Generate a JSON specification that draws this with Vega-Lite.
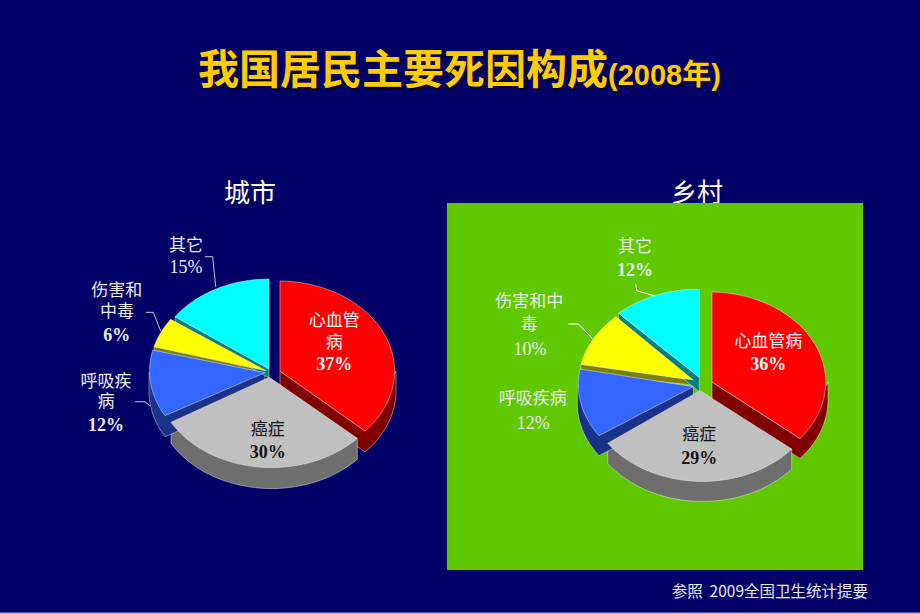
{"$schema":"https://vega.github.io/schema/vega-lite/v6.json","width":920,"height":614,"padding":0,"autosize":{"type":"none"},"background":"#000066","config":{"view":{"stroke":null}},
"datasets":{
"slices":[
{"panel":"城市","slice":"心血管病","value":0.37,"id":"城市-心血管病","n":0},
{"panel":"城市","slice":"癌症","value":0.30,"id":"城市-癌症","n":1},
{"panel":"城市","slice":"呼吸疾病","value":0.12,"id":"城市-呼吸疾病","n":2},
{"panel":"城市","slice":"伤害和中毒","value":0.06,"id":"城市-伤害和中毒","n":3},
{"panel":"城市","slice":"其它","value":0.15,"id":"城市-其它","n":4},
{"panel":"乡村","slice":"心血管病","value":0.36,"id":"乡村-心血管病","n":5},
{"panel":"乡村","slice":"癌症","value":0.29,"id":"乡村-癌症","n":6},
{"panel":"乡村","slice":"呼吸疾病","value":0.12,"id":"乡村-呼吸疾病","n":7},
{"panel":"乡村","slice":"伤害和中毒","value":0.10,"id":"乡村-伤害和中毒","n":8},
{"panel":"乡村","slice":"其它","value":0.12,"id":"乡村-其它","n":9}
],
"names":[
{"n":0,"slice":"心血管病","line":"心血管"},{"n":1,"slice":"心血管病","line":"病"},{"n":2,"slice":"癌症","line":"癌症"},{"n":3,"slice":"呼吸疾病","line":"呼吸疾"},{"n":4,"slice":"呼吸疾病","line":"病"},{"n":5,"slice":"伤害和中毒","line":"伤害和"},{"n":6,"slice":"伤害和中毒","line":"中毒"},{"n":7,"slice":"其它","line":"其它"},
{"n":8,"slice":"心血管病","line":"心血管病"},{"n":9,"slice":"癌症","line":"癌症"},{"n":10,"slice":"呼吸疾病","line":"呼吸疾病"},{"n":11,"slice":"伤害和中毒","line":"伤害和中"},{"n":12,"slice":"伤害和中毒","line":"毒"},{"n":13,"slice":"其它","line":"其它"}
]},
"resolve":{"scale":{"x":"independent","y":"independent","shape":"independent","color":"independent"}},
"layer":[
{"data":{"values":[{"panel":"城市"},{"panel":"乡村"}]},"mark":{"type":"text","fontSize":26,"font":"Noto Sans CJK SC","color":"#ffffff","baseline":"middle","align":"center"},
"encoding":{"text":{"field":"panel"},"x":{"field":"panel","type":"nominal","axis":null,"scale":{"type":"point","padding":0,"domain":["城市","乡村"],"range":[250,697]}},"y":{"field":"panel","type":"nominal","axis":null,"scale":{"type":"point","padding":0,"domain":["城市","乡村"],"range":[194,194]}}}},
{"data":{"values":[{"panel":"乡村"}]},"mark":{"type":"point","filled":true,"opacity":1,"size":4,"color":"#60c800","shape":"M-265,-179 L151,-179 L151,188 L-265,188 Z"},
"encoding":{"x":{"field":"panel","type":"nominal","axis":null,"scale":{"type":"point","padding":0,"domain":["城市","乡村"],"range":[280,712]}},"y":{"field":"panel","type":"nominal","axis":null,"scale":{"type":"point","padding":0,"domain":["城市","乡村"],"range":[371,382]}}}},
{"data":{"values":[{"panel":"乡村"}]},"mark":{"type":"point","filled":false,"fill":"transparent","opacity":1,"size":4,"strokeWidth":1.5,"color":"#b0b0f4","shape":"M-712,231.3 L208,231.3"},
"encoding":{"x":{"field":"panel","type":"nominal","axis":null,"scale":{"type":"point","padding":0,"domain":["城市","乡村"],"range":[280,712]}},"y":{"field":"panel","type":"nominal","axis":null,"scale":{"type":"point","padding":0,"domain":["城市","乡村"],"range":[371,382]}}}},
{"data":{"name":"slices"},"mark":{"type":"point","filled":true,"opacity":1,"size":4,"stroke":"#ffffff","strokeWidth":0.6,"strokeOpacity":0.7},
"encoding":{"x":{"field":"panel","type":"nominal","axis":null,"scale":{"type":"point","padding":0,"domain":["城市","乡村"],"range":[280,712]}},"y":{"field":"panel","type":"nominal","axis":null,"scale":{"type":"point","padding":0,"domain":["城市","乡村"],"range":[371,382]}},
"color":{"field":"slice","type":"nominal","legend":null,"scale":{"domain":["心血管病","癌症","呼吸疾病","伤害和中毒","其它"],"range":["#800000","#6e6e6e","#1a3388","#808000","#008080"]}},
"shape":{"field":"id","type":"nominal","legend":null,"scale":{"domain":["城市-心血管病","城市-癌症","城市-呼吸疾病","城市-伤害和中毒","城市-其它","乡村-心血管病","乡村-癌症","乡村-呼吸疾病","乡村-伤害和中毒","乡村-其它"],"range":[
"M0,0 L85,60 L116,0 L116,21 A116 90 0 0 1 85,81 L0,21 Z",
"M77.3,67.3 L77.3,88.3 A116 90 0 0 1 -109,72.3 L-109,51.3 Z",
"M-15,1.7 L-15,22.7 L-115,65.7 A116 90 0 0 1 -131,22.7 L-131,1.7 Z",
"M-14,-0.3 L-14,3 L-126,-20 L-126,-24.3 Z",
"M-11,-2 L-11,7 L-105,-47 L-105,-54.3 Z",
"M0,0 L88,56.5 L116,0 L116,20 A116 90 0 0 1 88,76.5 L0,20 Z",
"M79.7,67 L79.7,87 A116 90 0 0 1 -104.3,81.3 L-104.3,61.3 Z",
"M-18.7,4.7 L-18.7,24.7 L-113,73.7 A116 90 0 0 1 -134.7,24.7 L-134.7,4.7 Z",
"M-18.7,-2 L-18.7,3 L-131,-8 L-131,-17.7 Z",
"M-12.7,-4.7 L-12.7,10 L-93.3,-58 L-93.3,-68.7 Z"]}}}},
{"data":{"name":"slices"},"mark":{"type":"point","filled":true,"opacity":1,"size":4,"stroke":"#ffffff","strokeWidth":0.6,"strokeOpacity":0.7},
"encoding":{"x":{"field":"panel","type":"nominal","axis":null,"scale":{"type":"point","padding":0,"domain":["城市","乡村"],"range":[280,712]}},"y":{"field":"panel","type":"nominal","axis":null,"scale":{"type":"point","padding":0,"domain":["城市","乡村"],"range":[371,382]}},
"color":{"field":"slice","type":"nominal","legend":null,"scale":{"domain":["心血管病","癌症","呼吸疾病","伤害和中毒","其它"],"range":["#ff0000","#c0c0c0","#3366ff","#ffff00","#00ffff"]}},
"shape":{"field":"id","type":"nominal","legend":null,"scale":{"domain":["城市-心血管病","城市-癌症","城市-呼吸疾病","城市-伤害和中毒","城市-其它","乡村-心血管病","乡村-癌症","乡村-呼吸疾病","乡村-伤害和中毒","乡村-其它"],"range":[
"M0,0 L0,-90 A116 90 0 0 1 85,60 Z",
"M-10.7,6.3 L77.3,67.3 A116 90 0 0 1 -109,51.3 Z",
"M-15,1.7 L-115,44.7 A116 90 0 0 1 -127.3,-21 Z",
"M-14,-0.3 L-126,-24.3 A116 90 0 0 1 -109.3,-51.7 Z",
"M-11,-2 L-105,-54.3 A116 90 0 0 1 -11,-92 Z",
"M0,0 L0,-90 A116 90 0 0 1 88,56.5 Z",
"M-12,8.7 L79.7,67 A116 90 0 0 1 -104.3,61.3 Z",
"M-18.7,4.7 L-113,53.7 A116 90 0 0 1 -132,-13 Z",
"M-18.7,-2 L-131,-17.7 A116 90 0 0 1 -96,-65.3 Z",
"M-12.7,-4.7 L-93.3,-68.7 A116 90 0 0 1 -12.7,-92.7 Z"]}}}},
{"data":{"name":"slices"},"transform":[{"filter":{"field":"id","oneOf":["城市-呼吸疾病","城市-伤害和中毒","城市-其它","乡村-伤害和中毒","乡村-其它"]}}],"mark":{"type":"point","filled":false,"fill":"transparent","opacity":1,"size":4,"strokeWidth":1},
"encoding":{"x":{"field":"panel","type":"nominal","axis":null,"scale":{"type":"point","padding":0,"domain":["城市","乡村"],"range":[280,712]}},"y":{"field":"panel","type":"nominal","axis":null,"scale":{"type":"point","padding":0,"domain":["城市","乡村"],"range":[371,382]}},
"color":{"field":"panel","type":"nominal","legend":null,"scale":{"domain":["城市","乡村"],"range":["#c4cce0","#ffffff"]}},
"shape":{"field":"id","type":"nominal","legend":null,"scale":{"domain":["城市-呼吸疾病","城市-伤害和中毒","城市-其它","乡村-伤害和中毒","乡村-其它"],"range":[
"M-145,30.7 L-135,30.7 L-130,35",
"M-134,-58.7 L-126.7,-58.7 L-119.3,-40",
"M-75,-114.3 L-67.3,-114.3 L-64.3,-84.3",
"M-143.7,-58 L-133.7,-58 L-119.7,-43.7",
"M-76.3,-98 L-75.3,-91.3 L-57,-86"]}}}},
{"data":{"name":"names"},"mark":{"type":"text","font":"Noto Sans CJK SC","fontSize":17,"baseline":"middle","align":"center"},
"encoding":{"text":{"field":"line"},
"x":{"field":"n","type":"quantitative","axis":null,"scale":{"zero":false,"nice":false,"domain":[0,1,2,3,4,5,6,7,8,9,10,11,12,13],"range":[334.3,334.3,267.7,106,106,116.7,117,186,768.3,699.3,532.7,529.3,529.3,635]}},
"y":{"field":"n","type":"quantitative","axis":null,"scale":{"zero":false,"nice":false,"domain":[0,1,2,3,4,5,6,7,8,9,10,11,12,13],"range":[321,342.7,430,381.7,401.7,291,312.3,246,341.7,435,399.3,301.7,325,246.7]}},
"color":{"field":"slice","type":"nominal","legend":null,"scale":{"domain":["心血管病","癌症","呼吸疾病","伤害和中毒","其它"],"range":["#ffffff","#111111","#e8ecf0","#e8ecf0","#e8ecf0"]}}}},
{"data":{"name":"slices"},"transform":[{"filter":{"field":"n","oneOf":[0,1,2,3,5,6,9]}}],"mark":{"type":"text","font":"Liberation Serif","fontSize":18,"fontWeight":"bold","baseline":"middle","align":"center"},
"encoding":{"text":{"field":"value","type":"quantitative","format":".0%"},
"x":{"field":"n","type":"quantitative","axis":null,"scale":{"zero":false,"nice":false,"domain":[0,1,2,3,4,5,6,7,8,9],"range":[334.3,267.7,106,116.7,186,768.3,699.3,533.3,530,635]}},
"y":{"field":"n","type":"quantitative","axis":null,"scale":{"zero":false,"nice":false,"domain":[0,1,2,3,4,5,6,7,8,9],"range":[365,452.7,425.7,335.7,268.3,365,459.3,424,350,271]}},
"color":{"field":"slice","type":"nominal","legend":null,"scale":{"domain":["心血管病","癌症","呼吸疾病","伤害和中毒","其它"],"range":["#ffffff","#111111","#e8ecf0","#e8ecf0","#e8ecf0"]}}}},
{"data":{"name":"slices"},"transform":[{"filter":{"field":"n","oneOf":[4,7,8]}}],"mark":{"type":"text","font":"Liberation Serif","fontSize":18,"baseline":"middle","align":"center"},
"encoding":{"text":{"field":"value","type":"quantitative","format":".0%"},
"x":{"field":"n","type":"quantitative","axis":null,"scale":{"zero":false,"nice":false,"domain":[0,1,2,3,4,5,6,7,8,9],"range":[334.3,267.7,106,116.7,186,768.3,699.3,533.3,530,635]}},
"y":{"field":"n","type":"quantitative","axis":null,"scale":{"zero":false,"nice":false,"domain":[0,1,2,3,4,5,6,7,8,9],"range":[365,452.7,425.7,335.7,268.3,365,459.3,424,350,271]}},
"color":{"field":"slice","type":"nominal","legend":null,"scale":{"domain":["心血管病","癌症","呼吸疾病","伤害和中毒","其它"],"range":["#ffffff","#111111","#e8ecf0","#e8ecf0","#e8ecf0"]}}}},
{"data":{"values":[{"t":"我国居民主要死因构成"}]},"mark":{"type":"text","font":"Noto Sans CJK SC","fontSize":41,"fontWeight":"bold","baseline":"middle","align":"left","color":"#06060c","dx":2,"dy":2},
"encoding":{"text":{"field":"t"},"x":{"field":"t","type":"nominal","axis":null,"scale":{"type":"point","padding":0,"domain":["我国居民主要死因构成"],"range":[198,198]}},"y":{"field":"t","type":"nominal","axis":null,"scale":{"type":"point","padding":0,"domain":["我国居民主要死因构成"],"range":[72,72]}}}},
{"data":{"values":[{"t":"我国居民主要死因构成"}]},"mark":{"type":"text","font":"Noto Sans CJK SC","fontSize":41,"fontWeight":"bold","baseline":"middle","align":"left","color":"#ffcc00"},
"encoding":{"text":{"field":"t"},"x":{"field":"t","type":"nominal","axis":null,"scale":{"type":"point","padding":0,"domain":["我国居民主要死因构成"],"range":[198,198]}},"y":{"field":"t","type":"nominal","axis":null,"scale":{"type":"point","padding":0,"domain":["我国居民主要死因构成"],"range":[72,72]}}}},
{"data":{"values":[{"t":"(2008年)"}]},"mark":{"type":"text","font":"Liberation Sans, Noto Sans CJK SC","fontSize":29,"fontWeight":"bold","baseline":"middle","align":"left","color":"#06060c","dx":2,"dy":2},
"encoding":{"text":{"field":"t"},"x":{"field":"t","type":"nominal","axis":null,"scale":{"type":"point","padding":0,"domain":["(2008年)"],"range":[608,608]}},"y":{"field":"t","type":"nominal","axis":null,"scale":{"type":"point","padding":0,"domain":["(2008年)"],"range":[76,76]}}}},
{"data":{"values":[{"t":"(2008年)"}]},"mark":{"type":"text","font":"Liberation Sans, Noto Sans CJK SC","fontSize":29,"fontWeight":"bold","baseline":"middle","align":"left","color":"#ffcc00"},
"encoding":{"text":{"field":"t"},"x":{"field":"t","type":"nominal","axis":null,"scale":{"type":"point","padding":0,"domain":["(2008年)"],"range":[608,608]}},"y":{"field":"t","type":"nominal","axis":null,"scale":{"type":"point","padding":0,"domain":["(2008年)"],"range":[76,76]}}}},
{"data":{"values":[{"t":"参照\u00a0\u00a02009全国卫生统计提要"}]},"mark":{"type":"text","font":"Noto Sans CJK SC","fontSize":15.5,"baseline":"middle","align":"right","color":"#e6e8f4"},
"encoding":{"text":{"field":"t"},"x":{"field":"t","type":"nominal","axis":null,"scale":{"type":"point","padding":0,"domain":["参照\u00a0\u00a02009全国卫生统计提要"],"range":[868,868]}},"y":{"field":"t","type":"nominal","axis":null,"scale":{"type":"point","padding":0,"domain":["参照\u00a0\u00a02009全国卫生统计提要"],"range":[592,592]}}}}
]}
